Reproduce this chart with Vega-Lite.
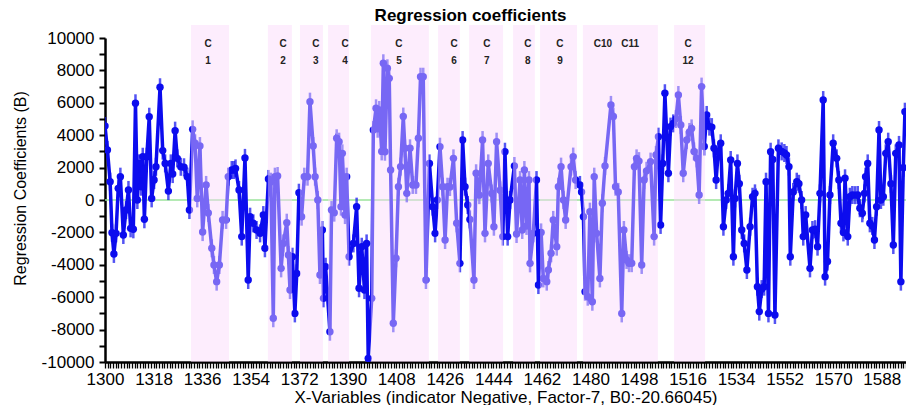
{
"$schema":"https://vega.github.io/schema/vega-lite/v6.json",
"width":801,"height":324,
"autosize":{"type":"none"},
"padding":{"left":105,"top":38,"right":0,"bottom":43},
"config":{"view":{"stroke":null},"font":"Liberation Sans","axis":{"labelOverlap":false}},
"title":{"text":"Regression coefficients","fontSize":17,"fontWeight":"bold","font":"Liberation Sans","color":"#000","anchor":"middle","dx":-35,"offset":0},
"datasets":{
"coef":[
{"x":1300,"b":4570},{"x":1300.9,"b":3090},{"x":1301.9,"b":1130},{"x":1302.6,"b":-2020},{"x":1303.3,"b":-3330},{"x":1304.1,"b":-2060},{"x":1304.9,"b":720},{"x":1305.7,"b":1440},{"x":1306.8,"b":-2160},{"x":1307.8,"b":-620},{"x":1308.7,"b":620},{"x":1309.5,"b":-1750},{"x":1310.5,"b":-1810},{"x":1311.3,"b":5970},{"x":1312,"b":0},{"x":1312.7,"b":2260},{"x":1313.4,"b":820},{"x":1314,"b":2670},{"x":1314.6,"b":-1190},{"x":1315.5,"b":2670},{"x":1316.4,"b":5140},{"x":1317.3,"b":100},{"x":1318.2,"b":1230},{"x":1318.9,"b":2050},{"x":1320.4,"b":6960},{"x":1321.4,"b":3050},{"x":1322.3,"b":2260},{"x":1323.5,"b":550},{"x":1324.4,"b":2260},{"x":1325.1,"b":1600},{"x":1326,"b":4280},{"x":1326.8,"b":2570},{"x":1328.1,"b":2050},{"x":1329.3,"b":2020},{"x":1330.5,"b":1440},{"x":1331.3,"b":-620},{"x":1332.5,"b":4360},{"x":1333.4,"b":3500},{"x":1334.2,"b":100},{"x":1335.2,"b":3330},{"x":1336.2,"b":-1980},{"x":1337.5,"b":930},{"x":1338.3,"b":-800},{"x":1339.6,"b":-2980},{"x":1340.4,"b":-4010},{"x":1341.4,"b":-5040},{"x":1342.4,"b":-4010},{"x":1343.6,"b":-1230},{"x":1344.9,"b":-1230},{"x":1345.7,"b":1440},{"x":1347,"b":1850},{"x":1347.8,"b":1850},
{"x":1348.4,"b":1950},{"x":1349.7,"b":620},{"x":1350.7,"b":-2260},{"x":1351.9,"b":2600},{"x":1353.1,"b":-4940},{"x":1353.8,"b":-1030},{"x":1355,"b":-1440},{"x":1356.2,"b":-1850},{"x":1357.5,"b":-2060},{"x":1358.7,"b":-930},{"x":1359.3,"b":-2980},{"x":1360.6,"b":1300},{"x":1361.5,"b":1130},{"x":1362.4,"b":-7300},{"x":1363,"b":1440},{"x":1364,"b":1480},{"x":1365.3,"b":-4220},{"x":1366.1,"b":-2680},{"x":1367.4,"b":-1400},{"x":1368,"b":-3400},{"x":1368.6,"b":-5560},{"x":1369.5,"b":-3500},{"x":1370.4,"b":-7000},{"x":1371.1,"b":-4530},{"x":1371.9,"b":450},{"x":1372.9,"b":-1030},{"x":1373.9,"b":1440},{"x":1375.1,"b":1440},{"x":1376,"b":6070},{"x":1377.2,"b":3330},{"x":1377.9,"b":1440},{"x":1378.9,"b":0},{"x":1379.7,"b":-4630},{"x":1380.6,"b":-1850},{"x":1381,"b":-6070},{"x":1381.8,"b":-4120},{"x":1383.4,"b":-8130},{"x":1384,"b":-620},{"x":1385,"b":-780},{"x":1385.9,"b":3810},{"x":1386.8,"b":3600},{"x":1387.5,"b":-410},{"x":1388,"b":2880},{"x":1389,"b":-930},{"x":1389.6,"b":1440},{"x":1390.5,"b":-3500},{"x":1392.1,"b":-2680},{"x":1393.3,"b":-410},{"x":1394.2,"b":-5450},{"x":1395.2,"b":-2880},{"x":1396.2,"b":-5560},{"x":1397,"b":-2680},{"x":1397.6,"b":-9780},
{"x":1398.9,"b":-6070},{"x":1399.5,"b":4320},{"x":1400.5,"b":5660},{"x":1401.1,"b":4400},{"x":1401.7,"b":5560},{"x":1402.6,"b":3000},{"x":1403.2,"b":8440},{"x":1403.8,"b":2980},{"x":1404.7,"b":8130},{"x":1405.4,"b":7510},{"x":1405.9,"b":1850},{"x":1406.9,"b":-7610},{"x":1407.9,"b":-3600},{"x":1408.8,"b":820},{"x":1409.6,"b":2060},{"x":1410.6,"b":5150},{"x":1411.2,"b":3190},{"x":1411.9,"b":410},{"x":1413.1,"b":3190},{"x":1414.1,"b":930},{"x":1415.3,"b":930},{"x":1416.2,"b":3810},{"x":1417,"b":7610},{"x":1418,"b":7610},{"x":1419,"b":-4940},{"x":1420.3,"b":2260},{"x":1421.5,"b":-410},{"x":1422.4,"b":-2060},{"x":1423.2,"b":0},{"x":1424.2,"b":3290},{"x":1425.2,"b":820},{"x":1426.1,"b":-2470},{"x":1427,"b":820},{"x":1427.9,"b":800},{"x":1429.2,"b":2570},{"x":1430.4,"b":-1440},{"x":1431.6,"b":-3910},{"x":1432.6,"b":3700},{"x":1433.5,"b":820},{"x":1434.5,"b":-310},{"x":1435.3,"b":-1200},{"x":1436.8,"b":-4940},{"x":1437.6,"b":1650},{"x":1438.8,"b":300},{"x":1440,"b":3700},{"x":1440.9,"b":-2060},{"x":1442.1,"b":2260},{"x":1443.4,"b":400},{"x":1444.2,"b":-1650},{"x":1445.2,"b":3600},{"x":1446.5,"b":600},{"x":1447.5,"b":-2260},{"x":1448.3,"b":2980},
{"x":1449.3,"b":-2260},{"x":1450.2,"b":0},{"x":1451.8,"b":2100},{"x":1452.6,"b":-2100},{"x":1453.9,"b":1230},{"x":1454.7,"b":-1850},{"x":1455.5,"b":1850},{"x":1456.3,"b":-1600},{"x":1457.2,"b":1230},{"x":1457.6,"b":-3910},{"x":1458.8,"b":-2060},{"x":1460,"b":1230},{"x":1460.7,"b":-5250},{"x":1461.7,"b":-2000},{"x":1462.5,"b":-4840},{"x":1463.8,"b":-5040},{"x":1464.4,"b":-4320},{"x":1465.4,"b":-3290},{"x":1466.2,"b":-1230},{"x":1467.5,"b":-2880},{"x":1468.1,"b":820},{"x":1469.1,"b":2060},{"x":1470,"b":0},{"x":1470.8,"b":-1230},{"x":1472.8,"b":2060},{"x":1473.6,"b":2680},{"x":1474.5,"b":1230},{"x":1476.1,"b":930},{"x":1476.7,"b":500},{"x":1477.4,"b":-1030},{"x":1478,"b":-5660},{"x":1479,"b":-5970},{"x":1479.8,"b":-720},{"x":1480.7,"b":-6280},{"x":1481.4,"b":1440},{"x":1482.3,"b":-2060},{"x":1483.5,"b":-4840},{"x":1484.4,"b":-200},{"x":1485.4,"b":2100},{"x":1487.6,"b":5870},{"x":1488.5,"b":5150},{"x":1489.3,"b":820},{"x":1490.3,"b":500},{"x":1491.6,"b":-7000},{"x":1492.4,"b":-1850},{"x":1493.4,"b":-3700},{"x":1494.3,"b":-3900},{"x":1495.3,"b":-3900},{"x":1496.3,"b":2060},{"x":1497.1,"b":2570},{"x":1498,"b":2400},
{"x":1499,"b":-4010},{"x":1499.9,"b":1230},{"x":1500.8,"b":1800},{"x":1502.3,"b":2370},{"x":1503.6,"b":-2260},{"x":1504.3,"b":2780},{"x":1505.2,"b":3910},{"x":1506,"b":-1540},{"x":1506.8,"b":2260},{"x":1507.6,"b":6590},{"x":1508.9,"b":1650},{"x":1509.7,"b":4530},{"x":1510.7,"b":4730},{"x":1511.7,"b":5000},{"x":1512.6,"b":6480},{"x":1513.5,"b":4630},{"x":1514.4,"b":1650},{"x":1515.7,"b":3700},{"x":1516.7,"b":4200},{"x":1517.5,"b":4420},{"x":1518.4,"b":3000},{"x":1519.4,"b":2570},{"x":1520.3,"b":310},{"x":1521.2,"b":7000},{"x":1522.2,"b":3300},{"x":1523.1,"b":5250},{"x":1524.1,"b":4530},{"x":1525,"b":4500},{"x":1525.8,"b":3190},{"x":1526.6,"b":1230},{"x":1527.4,"b":2980},{"x":1528.3,"b":3500},{"x":1529.3,"b":-1650},{"x":1530.3,"b":0},{"x":1531.1,"b":410},{"x":1532,"b":2470},{"x":1533,"b":-3500},{"x":1533.6,"b":100},{"x":1534.5,"b":2260},{"x":1535.2,"b":1000},{"x":1536.1,"b":-1850},{"x":1537,"b":-2680},{"x":1538,"b":-4320},{"x":1539.2,"b":-1650},{"x":1540.1,"b":200},{"x":1541,"b":410},{"x":1541.9,"b":-5350},{"x":1542.6,"b":-6890},{"x":1543.5,"b":-5500},{"x":1544.4,"b":-5350},{"x":1545.1,"b":1130},{"x":1546,"b":-7000},{"x":1546.8,"b":2980},{"x":1547.6,"b":2500},
{"x":1548.4,"b":-7100},{"x":1549.7,"b":3190},{"x":1550.9,"b":3000},{"x":1551.9,"b":2900},{"x":1552.7,"b":2780},{"x":1553.6,"b":2060},{"x":1554.1,"b":-3500},{"x":1555.2,"b":500},{"x":1556.5,"b":1130},{"x":1557.3,"b":1000},{"x":1558.3,"b":0},{"x":1558.9,"b":-2260},{"x":1559.8,"b":-930},{"x":1561.4,"b":-4220},{"x":1562.3,"b":-1850},{"x":1563.3,"b":-1800},{"x":1564.2,"b":-2880},{"x":1565.1,"b":410},{"x":1566.3,"b":6170},{"x":1567,"b":-4730},{"x":1567.9,"b":-3800},{"x":1568.8,"b":310},{"x":1570,"b":3500},{"x":1571.3,"b":2570},{"x":1572.1,"b":1230},{"x":1572.9,"b":-1440},{"x":1573.8,"b":-2000},{"x":1574.4,"b":1340},{"x":1575.4,"b":-2260},{"x":1576.2,"b":200},{"x":1577.1,"b":310},{"x":1578.1,"b":300},{"x":1579.1,"b":310},{"x":1579.9,"b":-510},{"x":1580.8,"b":-820},{"x":1581.6,"b":410},{"x":1582,"b":1440},{"x":1582.8,"b":2260},{"x":1583.6,"b":-1440},{"x":1584.5,"b":-1600},{"x":1585.3,"b":-2470},{"x":1586.1,"b":-410},{"x":1587,"b":4320},{"x":1587.7,"b":0},{"x":1588.6,"b":200},{"x":1589.5,"b":2880},{"x":1590.4,"b":3600},{"x":1591.4,"b":1000},{"x":1592.3,"b":-2780},{"x":1593.2,"b":2880},{"x":1594.4,"b":3400},{"x":1595.1,"b":-5040},{"x":1596,"b":2000},{"x":1596.6,"b":5450}
],
"regions":[
{"start":1331.9,"end":1346,"top":10800,"bottom":-10000},{"start":1360.4,"end":1369.3,"top":10800,"bottom":-10000},{"start":1372.3,"end":1380.8,"top":10800,"bottom":-10000},{"start":1382.7,"end":1390.5,"top":10800,"bottom":-10000},{"start":1398.6,"end":1420.1,"top":10800,"bottom":-10000},{"start":1423.5,"end":1431.6,"top":10800,"bottom":-10000},{"start":1435,"end":1447.6,"top":10800,"bottom":-10000},{"start":1451.3,"end":1459.4,"top":10800,"bottom":-10000},{"start":1461.3,"end":1475,"top":10800,"bottom":-10000},{"start":1477.2,"end":1505,"top":10800,"bottom":-10000},{"start":1511,"end":1522.5,"top":10800,"bottom":-10000}
],
"labels":[
{"cx":1338.2,"l1":"C","l2":"1"},{"cx":1366,"l1":"C","l2":"2"},{"cx":1378.2,"l1":"C","l2":"3"},{"cx":1389,"l1":"C","l2":"4"},{"cx":1409,"l1":"C","l2":"5"},{"cx":1429.4,"l1":"C","l2":"6"},{"cx":1441.6,"l1":"C","l2":"7"},{"cx":1456.8,"l1":"C","l2":"8"},{"cx":1468.7,"l1":"C","l2":"9"},{"cx":1484.6,"l1":"C10","l2":""},{"cx":1494.7,"l1":"C11","l2":""},{"cx":1516.2,"l1":"C","l2":"12"}
],
"zero":[{"v":0}]
},
"resolve":{"axis":{"y":"independent"}},
"layer":[
{"data":{"name":"zero"},
 "mark":{"type":"rule","color":"#9be39b","strokeWidth":1.5},
 "encoding":{"y":{"field":"v","type":"quantitative","scale":{"domain":[-10000,10000],"nice":false,"zero":false},
   "axis":{"orient":"left","title":null,"labels":false,"values":[-9000,-7000,-5000,-3000,-1000,1000,3000,5000,7000,9000],"tickSize":6,"tickWidth":2,"tickColor":"#000","domain":false,"grid":false}}}},
{"data":{"name":"coef"},
 "mark":{"type":"line","color":"#0c0cee","strokeWidth":3.5,"clip":true},
 "encoding":{"x":{"field":"x","type":"quantitative","scale":{"domain":[1300,1597],"nice":false,"zero":false},
   "axis":{"title":"X-Variables (indicator Negative, Factor-7, B0:-20.66045)","tickCount":300,
   "labelExpr":"(datum.value - 1300) % 18 === 0 ? '' + datum.value : ''","labelOverlap":false,"labelBound":false,"labelFlush":false,
   "labelFontSize":17,"labelFont":"Liberation Sans","labelColor":"#000","labelPadding":3,
   "tickSize":6,"tickWidth":1.3,"tickColor":"#000","domainColor":"#000","domainWidth":2.5,"grid":false,
   "titleFontSize":17,"titleFont":"Liberation Sans","titleFontWeight":"normal","titleColor":"#000","titlePadding":2}},
  "y":{"field":"b","type":"quantitative","scale":{"domain":[-10000,10000],"nice":false,"zero":false},
   "axis":{"orient":"left","title":"Regression Coefficients (B)","values":[-10000,-8000,-6000,-4000,-2000,0,2000,4000,6000,8000,10000],
   "labelExpr":"'' + datum.value","labelFontSize":17,"labelColor":"#000","labelPadding":5,"labelFont":"Liberation Sans","labelOverlap":false,"labelBound":false,"labelFlush":false,
   "tickSize":6,"tickWidth":2,"tickColor":"#000","domainColor":"#000","domainWidth":2.5,"grid":false,
   "titleFontSize":16,"titleFont":"Liberation Sans","titleFontWeight":"normal","titleColor":"#000","titleX":-85,"titleY":150,"titleAngle":-90,"titleAlign":"center","titleBaseline":"middle"}}}},
{"data":{"name":"coef"},
 "mark":{"type":"tick","orient":"vertical","color":"#0c0cee","size":18,"thickness":2.5,"clip":true},
 "encoding":{"x":{"field":"x","type":"quantitative"},"y":{"field":"b","type":"quantitative","axis":null}}},
{"data":{"name":"coef"},
 "mark":{"type":"point","filled":true,"color":"#0c0cee","size":55,"opacity":1,"clip":true},
 "encoding":{"x":{"field":"x","type":"quantitative"},"y":{"field":"b","type":"quantitative","axis":null}}},
{"data":{"name":"regions"},
 "mark":{"type":"rect","color":"#fad7fa","opacity":0.45},
 "encoding":{"x":{"field":"start","type":"quantitative"},"x2":{"field":"end"},"y":{"field":"top","type":"quantitative","axis":null},"y2":{"field":"bottom"}}},
{"data":{"name":"labels"},
 "mark":{"type":"text","font":"Liberation Sans","fontWeight":"bold","fontSize":10,"color":"#222","baseline":"middle"},
 "encoding":{"x":{"field":"cx","type":"quantitative"},"y":{"datum":9620,"axis":null},"text":{"field":"l1"}}},
{"data":{"name":"labels"},
 "mark":{"type":"text","font":"Liberation Sans","fontWeight":"bold","fontSize":10,"color":"#222","baseline":"middle"},
 "encoding":{"x":{"field":"cx","type":"quantitative"},"y":{"datum":8580,"axis":null},"text":{"field":"l2"}}}
]
}
